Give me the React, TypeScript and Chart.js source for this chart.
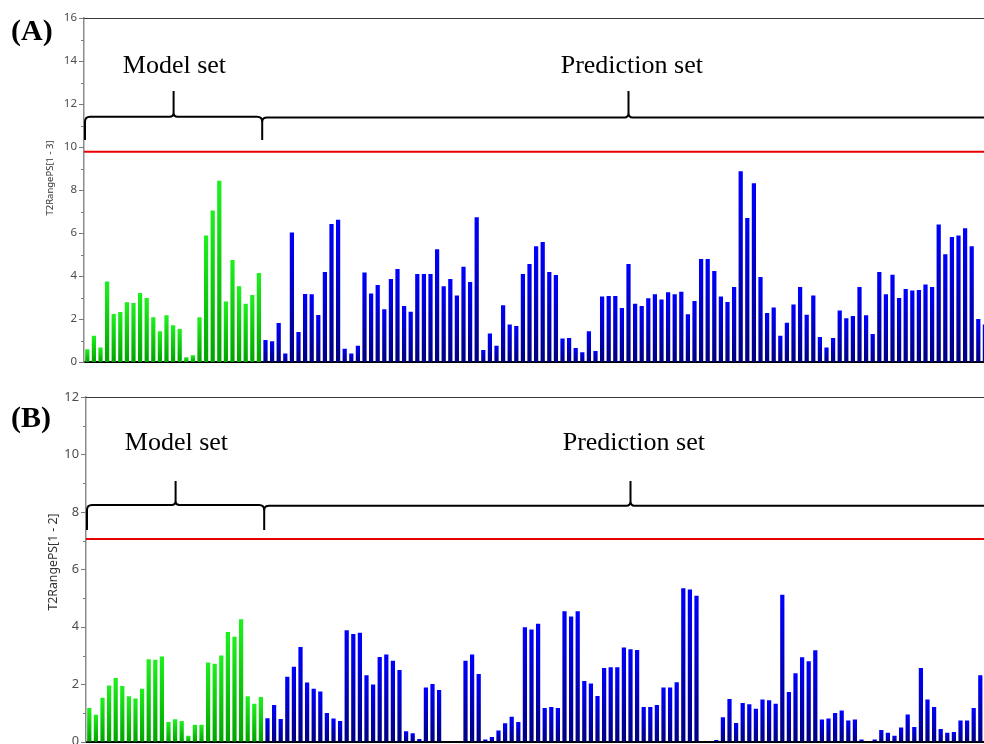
import { useEffect, useRef } from "react";
import { Chart, registerables } from "chart.js";

Chart.register(...registerables);

// Hotelling T2 range per observation: model (training) set followed by prediction set.
const modelA = [
  0.59, 1.22, 0.68, 3.75, 2.23, 2.33, 2.78, 2.74, 3.21, 2.98, 2.08, 1.43, 2.17, 1.71,
  1.53, 0.22, 0.31, 2.08, 5.88, 7.05, 8.43, 2.81, 4.74, 3.52, 2.71, 3.12, 4.14,
];
const predictionA = [
  1.02, 0.96, 1.81, 0.4, 6.02, 1.4, 3.16, 3.15, 2.19, 4.19,
  6.42, 6.62, 0.62, 0.39, 0.76, 4.16, 3.19, 3.58, 2.45, 3.86,
  4.33, 2.6, 2.34, 4.09, 4.09, 4.09, 5.24, 3.52, 3.86, 3.09,
  4.43, 3.72, 6.73, 0.56, 1.33, 0.76, 2.64, 1.74, 1.67, 4.09,
  4.56, 5.38, 5.58, 4.19, 4.05, 1.09, 1.12, 0.65, 0.45, 1.43,
  0.51, 3.05, 3.07, 3.07, 2.51, 4.56, 2.71, 2.6, 2.96, 3.15,
  2.91, 3.24, 3.15, 3.27, 2.22, 2.84, 4.79, 4.79, 4.23, 3.05,
  2.79, 3.49, 8.87, 6.7, 8.31, 3.95, 2.28, 2.54, 1.22, 1.83,
  2.68, 3.49, 2.2, 3.09, 1.16, 0.68, 1.12, 2.4, 2.03, 2.14,
  3.49, 2.17, 1.3, 4.19, 3.15, 4.06, 2.98, 3.4, 3.32, 3.35,
  3.61, 3.49, 6.39, 5.01, 5.81, 5.88, 6.22, 5.38, 2.0, 1.74,
];
const modelB = [
  1.17, 0.94, 1.53, 1.96, 2.22, 1.94, 1.58, 1.5, 1.84, 2.87, 2.85, 2.97, 0.69, 0.78,
  0.72, 0.21, 0.59, 0.59, 2.76, 2.71, 3.0, 3.82, 3.65, 4.26, 1.58, 1.32, 1.56,
];
const predictionB = [
  0.82, 1.28, 0.79, 2.26, 2.61, 3.3, 2.06, 1.84, 1.75, 1.0,
  0.81, 0.72, 3.88, 3.75, 3.79, 2.31, 1.99, 2.95, 3.04, 2.82,
  2.5, 0.36, 0.29, 0.09, 1.89, 2.01, 1.8, 0, 0, 0,
  2.82, 3.04, 2.36, 0.08, 0.16, 0.39, 0.64, 0.87, 0.69, 3.98,
  3.91, 4.11, 1.17, 1.21, 1.17, 4.54, 4.36, 4.54, 2.11, 2.03,
  1.59, 2.57, 2.59, 2.59, 3.28, 3.22, 3.19, 1.21, 1.21, 1.28,
  1.89, 1.89, 2.07, 5.34, 5.3, 5.08, 0, 0, 0.06, 0.85,
  1.49, 0.65, 1.35, 1.3, 1.15, 1.47, 1.44, 1.32, 5.12, 1.73,
  2.38, 2.94, 2.8, 3.18, 0.77, 0.81, 1.0, 1.09, 0.74, 0.77,
  0.08, 0, 0.08, 0.41, 0.31, 0.21, 0.49, 0.95, 0.51, 2.57,
  1.47, 1.21, 0.44, 0.31, 0.34, 0.74, 0.74, 1.17, 2.31,
];

// Critical limits (95%) for each model
const limitA = 9.78;
const limitB = 7.06;

const observationCount = 138;
const setNames = ["Model set", "Prediction set"];
const panelTags = ["(A)", "(B)"];
const axisTitles = ["T2RangePS[1 - 3]", "T2RangePS[1 - 2]"];
const yMaxima = [16, 12];

const CANVAS_W = 1010;
const SLOT = 6.6;

type PanelSpec = {
  top: number;
  height: number;
  axisLeft: number;
  areaTop: number;
  areaBottom: number;
  model: number[];
  prediction: number[];
  yMax: number;
  limit: number;
  tag: string;
  tagBaseline: number;
  title: string;
  titleX: number;
  titleY: number;
  titleSize: number;
  tickSize: number;
  brace: { line: number; end: number; tip: number; text: number };
};

const panels: PanelSpec[] = [
  {
    top: 0,
    height: 380,
    axisLeft: 84,
    areaTop: 18,
    areaBottom: 362,
    model: modelA,
    prediction: predictionA,
    yMax: yMaxima[0],
    limit: limitA,
    tag: panelTags[0],
    tagBaseline: 40,
    title: axisTitles[0],
    titleX: 50,
    titleY: 178,
    titleSize: 9.5,
    tickSize: 11.5,
    brace: { line: 11.41, end: 10.33, tip: 12.6, text: 13.43 },
  },
  {
    top: 380,
    height: 380,
    axisLeft: 86,
    areaTop: 17,
    areaBottom: 361.7,
    model: modelB,
    prediction: predictionB,
    yMax: yMaxima[1],
    limit: limitB,
    tag: panelTags[1],
    tagBaseline: 46.7,
    title: axisTitles[1],
    titleX: 53,
    titleY: 182,
    titleSize: 12.3,
    tickSize: 12.8,
    brace: { line: 8.24, end: 7.37, tip: 9.08, text: 10.16 },
  },
];

function barShade(ctx: any, modelCount: number) {
  const isModel = ctx.dataIndex < modelCount;
  const top = isModel ? "#1ef01e" : "#0000ff";
  const bottom = isModel ? "#00a400" : "#000080";
  const chart = ctx.chart;
  const y = chart.scales && chart.scales.y;
  if (ctx.type !== "data" || !chart.chartArea || !y) return top;
  const v = typeof ctx.raw === "number" ? ctx.raw : 0;
  const y0 = y.getPixelForValue(v);
  const y1 = y.getPixelForValue(0);
  if (!isFinite(y0) || !isFinite(y1) || y1 - y0 < 1) return bottom;
  const g = chart.ctx.createLinearGradient(0, y0, 0, y1);
  g.addColorStop(0, top);
  g.addColorStop(1, bottom);
  return g;
}

function overlayPlugin(p: PanelSpec) {
  return {
    id: "panelOverlay",
    afterDraw(chart: any) {
      const { ctx, chartArea: a } = chart;
      const x = chart.scales.x;
      const y = chart.scales.y;
      const W = chart.width;
      ctx.save();

      // y-axis tick marks: long at labelled values, short in between
      ctx.strokeStyle = "#7a7a7a";
      ctx.lineWidth = 1;
      for (let v = 0; v <= p.yMax; v++) {
        const py = Math.round(y.getPixelForValue(v)) + 0.5;
        const len = v % 2 === 0 ? 5 : 3;
        ctx.beginPath();
        ctx.moveTo(a.left - len, py);
        ctx.lineTo(a.left, py);
        ctx.stroke();
      }

      // plot frame top edge
      ctx.strokeStyle = "#3a3a3a";
      ctx.lineWidth = 1;
      ctx.beginPath();
      ctx.moveTo(a.left, Math.round(a.top) + 0.5);
      ctx.lineTo(W, Math.round(a.top) + 0.5);
      ctx.stroke();

      // critical limit
      const ly = y.getPixelForValue(p.limit);
      ctx.strokeStyle = "#e80000";
      ctx.lineWidth = 2;
      ctx.beginPath();
      ctx.moveTo(a.left, ly);
      ctx.lineTo(W, ly);
      ctx.stroke();

      // braces grouping the model and prediction sets
      const yl = y.getPixelForValue(p.brace.line);
      const ye = y.getPixelForValue(p.brace.end);
      const yt = y.getPixelForValue(p.brace.tip);
      const xl = x.getPixelForValue(-0.5) + 1;
      const xj = x.getPixelForValue(p.model.length - 0.5);
      const tm = (xl + xj) / 2;
      const tp = (xj + a.right) / 2;
      const r = 5;
      const rt = 4;
      ctx.strokeStyle = "#000";
      ctx.lineWidth = 2;
      ctx.lineJoin = "round";
      ctx.beginPath();
      ctx.moveTo(xl, ye);
      ctx.lineTo(xl, yl + r);
      ctx.quadraticCurveTo(xl, yl, xl + r, yl);
      ctx.lineTo(tm - rt, yl);
      ctx.quadraticCurveTo(tm, yl, tm, yl - rt);
      ctx.lineTo(tm, yt);
      ctx.moveTo(tm, yl - rt);
      ctx.quadraticCurveTo(tm, yl, tm + rt, yl);
      ctx.lineTo(xj - r, yl);
      ctx.quadraticCurveTo(xj, yl, xj, yl + r);
      ctx.lineTo(xj, ye);
      ctx.stroke();

      ctx.beginPath();
      ctx.moveTo(xj, yl + r);
      ctx.quadraticCurveTo(xj, yl + 0.8, xj + r, yl + 0.8);
      ctx.lineTo(tp - rt, yl + 0.8);
      ctx.quadraticCurveTo(tp, yl + 0.8, tp, yl - rt);
      ctx.lineTo(tp, yt);
      ctx.moveTo(tp, yl - rt);
      ctx.quadraticCurveTo(tp, yl + 0.8, tp + rt, yl + 0.8);
      ctx.lineTo(W, yl + 0.8);
      ctx.stroke();

      // set names
      const ty = y.getPixelForValue(p.brace.text);
      ctx.fillStyle = "#000";
      ctx.font = '26px "Liberation Serif"';
      ctx.textAlign = "center";
      ctx.textBaseline = "alphabetic";
      ctx.fillText(setNames[0], x.getPixelForValue(13.2), ty);
      ctx.fillText(setNames[1], x.getPixelForValue(82.5), ty);

      // panel tag
      ctx.font = 'bold 30px "Liberation Serif"';
      ctx.textAlign = "left";
      ctx.fillText(p.tag, 11, p.tagBaseline);

      // y-axis title
      ctx.translate(p.titleX, p.titleY);
      ctx.rotate(-Math.PI / 2);
      ctx.font = `${p.titleSize}px "Noto Sans"`;
      ctx.fillStyle = "#333";
      ctx.textAlign = "center";
      ctx.textBaseline = "middle";
      ctx.fillText(p.title, 0, 0);

      ctx.restore();
    },
  };
}

function T2Panel({ spec }: { spec: PanelSpec }) {
  const ref = useRef<HTMLCanvasElement>(null);

  useEffect(() => {
    const canvas = ref.current;
    if (!canvas) return;
    const values = [...spec.model, ...spec.prediction];
    const labels = Array.from({ length: observationCount }, (_, i) => String(i + 1));
    const modelCount = spec.model.length;
    const chart = new Chart(canvas, {
      type: "bar",
      data: {
        labels,
        datasets: [
          {
            data: values,
            backgroundColor: (ctx: any) => barShade(ctx, modelCount),
            borderWidth: 0,
            barPercentage: 0.64,
            categoryPercentage: 1,
          },
        ],
      },
      options: {
        responsive: false,
        animation: false,
        devicePixelRatio: 1,
        events: [],
        layout: {
          padding: {
            left: 0,
            top: spec.areaTop,
            right: CANVAS_W - (spec.axisLeft + observationCount * SLOT),
            bottom: spec.height - spec.areaBottom,
          },
        },
        plugins: { legend: { display: false }, tooltip: { enabled: false } },
        scales: {
          x: {
            grid: { display: false, drawTicks: false },
            ticks: { display: false },
            border: { color: "#000", width: 2 },
            afterFit: (s: any) => {
              s.height = 0;
              s.paddingLeft = 0;
              s.paddingRight = 0;
            },
          },
          y: {
            min: 0,
            max: spec.yMax,
            grid: { display: false, drawTicks: false },
            border: { color: "#8c8c8c", width: 1.5 },
            ticks: {
              stepSize: 2,
              padding: 7,
              color: "#4d4d4d",
              font: { family: "Noto Sans", size: spec.tickSize },
            },
            afterFit: (s: any) => {
              s.width = spec.axisLeft;
              s.paddingTop = 0;
              s.paddingBottom = 0;
            },
          },
        },
      } as any,
      plugins: [overlayPlugin(spec)],
    });
    return () => chart.destroy();
  }, [spec]);

  return (
    <canvas
      ref={ref}
      width={CANVAS_W}
      height={spec.height}
      style={{
        position: "absolute",
        left: 0,
        top: spec.top,
        width: CANVAS_W,
        height: spec.height,
        display: "block",
      }}
    />
  );
}

export default function App() {
  return (
    <div
      style={{
        position: "absolute",
        left: 0,
        top: 0,
        width: 984,
        height: 744,
        overflow: "hidden",
        background: "#fff",
      }}
    >
      {panels.map((p) => (
        <T2Panel key={p.tag} spec={p} />
      ))}
    </div>
  );
}
